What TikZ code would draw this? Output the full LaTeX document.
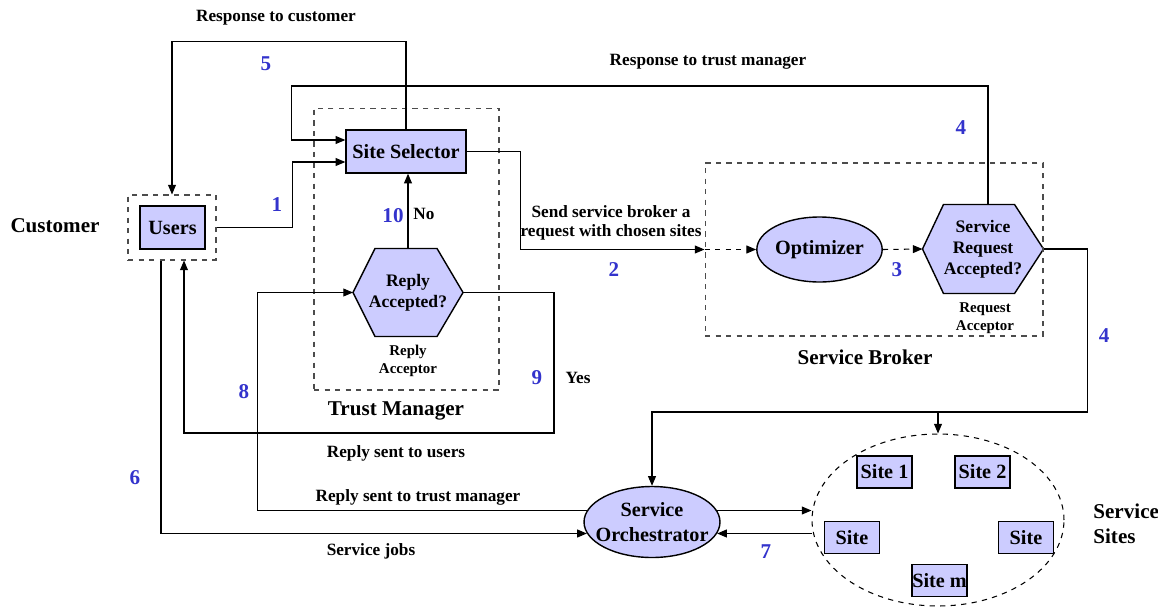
\documentclass[tikz,border=0pt]{standalone}
\usepackage{fontspec}
\setmainfont{Liberation Serif}
\usetikzlibrary{arrows.meta,calc,backgrounds,shapes.geometric}

\definecolor{boxfill}{RGB}{204,204,255}
\definecolor{stepblue}{RGB}{51,51,204}

\begin{document}
\begin{tikzpicture}[x=0.02cm,y=-0.02cm,
  line width=0.6pt,
  >={Triangle[length=5.5pt,width=4.5pt]},
  mainfont/.style={font=\bfseries\fontsize{11.5}{13}\selectfont},
  edgelabel/.style={font=\bfseries\fontsize{9.8}{11.5}\selectfont, align=center},
  smalllabel/.style={font=\bfseries\fontsize{8.5}{10}\selectfont, align=center},
  titlelabel/.style={font=\bfseries\fontsize{12}{14}\selectfont, align=left},
  stepnum/.style={font=\bfseries\fontsize{12}{14}\selectfont, text=stepblue},
  block/.style={draw, fill=boxfill, line width=0.8pt, mainfont, inner sep=0pt},
  sitebox/.style={block, minimum width=1.1cm, minimum height=0.64cm},
  oval/.style={block, ellipse},
  hexslot/.style={inner sep=0pt, align=center, font=\bfseries\fontsize{10}{12}\selectfont},
  group/.style={draw=black!70, dashed, line width=0.6pt, inner sep=0pt},
]
\useasboundingbox (0,0) rectangle (1158,608);

% ---------- nodes ----------
\node[group, minimum width=1.76cm, minimum height=1.3cm] (usersgrp) at (172,227.5) {};
\node[block, minimum width=1.3cm, minimum height=0.86cm] (users) at (172.5,227.5) {Users};

\node[group, minimum width=3.7cm, minimum height=5.64cm] (trust) at (406.5,249) {};
\node[block, minimum width=2.4cm, minimum height=0.86cm] (sel) at (406,151.5) {Site Selector};
\node[hexslot, minimum width=2.18cm, minimum height=1.74cm] (rep) at (408,292.5) {Reply\\Accepted?};

\node[group, minimum width=6.76cm, minimum height=3.46cm] (broker) at (874,249.5) {};
\node[oval, minimum width=2.42cm, minimum height=1.3cm] (opt) at (819.5,249.5) {Optimizer};
\node[hexslot, minimum width=2.4cm, minimum height=1.76cm] (srv) at (983,249) {Service\\Request\\Accepted?};

% orchestrator: fixed-size ellipse with its two-line caption on top
\node[oval, minimum width=2.72cm, minimum height=1.42cm] (orch) at (652,522) {};
\node[align=center, inner sep=0pt, font=\bfseries\fontsize{11.5}{14.5}\selectfont] (orchtext) at (orch.center) {Service\\Orchestrator};

\node[draw, dashed, ellipse, line width=0.6pt, minimum width=5.04cm, minimum height=3.44cm] (sites) at (938,520) {};
\node[sitebox] (s1) at (884.5,472) {Site 1};
\node[sitebox] (s2) at (982.5,472) {Site 2};
\node[sitebox] (sl) at (852,537.5) {Site};
\node[sitebox] (sr) at (1026,537.5) {Site};
\node[sitebox] (sm) at (939.5,580.5) {Site m};

% hexagon outlines behind their labels
\begin{scope}[on background layer]
  \draw[fill=boxfill, line width=0.8pt]
    (rep.west) -- ($(rep.north west)+(22,0)$) -- ($(rep.north east)+(-26,0)$) -- (rep.east)
    -- ($(rep.south east)+(-26,0)$) -- ($(rep.south west)+(22,0)$) -- cycle;
  \draw[fill=boxfill, line width=0.8pt]
    (srv.west) -- ($(srv.north west)+(21,0)$) -- ($(srv.north east)+(-29,0)$) -- (srv.east)
    -- ($(srv.south east)+(-29,0)$) -- ($(srv.south west)+(21,0)$) -- cycle;
\end{scope}

% ---------- connectors ----------
% 5: response back to the customer
\draw[->] (sel.north) -- ++(0,-88) -| (usersgrp.north);
% 1: users to site selector
\draw[->] (usersgrp.east) -- ++(76,0) |- ($(sel.west)+(0,10.5)$);
% 4: response from broker to trust manager
\draw[->] ($(srv.north)+(5,0)$) |- ($(sel.west)+(-54,-65.5)$) |- ($(sel.west)+(0,-11.5)$);
% 10: rejected reply goes back to site selector
\draw[->] (rep.north) -- (rep.north |- sel.south);
% 2: request to the service broker
\draw[->] (sel.east) -| ($(broker.west)+(-184,0)$) -- (broker.west);
\draw[->, dashed] (broker.west) -- (opt.west);
% 3
\draw[->, dashed] (opt.east) -- (srv.west);
% 4: accepted request to orchestrator and sites
\draw[->] (srv.east) -| ($(srv.east)+(44,163)$) -| (orch.north);
\draw[->] ($(sites.north)+(0,-21)$) -- (sites.north);
% orchestrator and sites
\draw[->] (orch.10) -- (orch.10 -| sites.west);
\draw[->] (orch.-10 -| sites.west) -- (orch.-10);
% 8: reply sent to trust manager
\draw[->] (orch.170) -| ($(rep.west)+(-95.5,0)$) -- (rep.west);
% 9: reply sent to users
\draw[->] (rep.east) -| ($(rep.east)+(91,140.5)$) -| ($(usersgrp.south)+(12,0)$);
% 6: service jobs
\draw[->] ($(usersgrp.south)+(-11,0)$) |- (orch.190);

% ---------- labels ----------
\node[edgelabel] (lrc) at (276,18) {Response to customer};
\node[edgelabel] (lrt) at (708,62) {Response to trust manager};
\node[edgelabel] (lsend) at (611,223) {Send service broker a\\[-1pt]request with chosen sites};
\node[edgelabel] (lno) at (424,214) {No};
\node[edgelabel] (lyes) at (578,378) {Yes};
\node[edgelabel] (lrsu) at (396,453) {Reply sent to users};
\node[edgelabel] (lrst) at (418,497) {Reply sent to trust manager};
\node[edgelabel] (ljobs) at (371,551) {Service jobs};

\node[smalllabel] (lra) at (408,361) {Reply\\Acceptor};
\node[smalllabel] (lqa) at (985,318) {Request\\Acceptor};

\node[titlelabel] (lcust) at (55,226) {Customer};
\node[titlelabel] (ltm) at (396,411) {Trust Manager};
\node[titlelabel] (lsb) at (865,357) {Service Broker};
\node[titlelabel, anchor=west] (lss) at (1087,524) {Service\\Sites};

\node[stepnum] (n1) at (277,205) {1};
\node[stepnum] (n2) at (614,270) {2};
\node[stepnum] (n3) at (897,270) {3};
\node[stepnum] (n4a) at (961,128) {4};
\node[stepnum] (n4b) at (1104,336) {4};
\node[stepnum] (n5) at (266,64) {5};
\node[stepnum] (n6) at (135,478) {6};
\node[stepnum] (n7) at (766,552) {7};
\node[stepnum] (n8) at (244,392) {8};
\node[stepnum] (n9) at (537,378) {9};
\node[stepnum] (n10) at (393,216) {10};
\end{tikzpicture}
\end{document}
